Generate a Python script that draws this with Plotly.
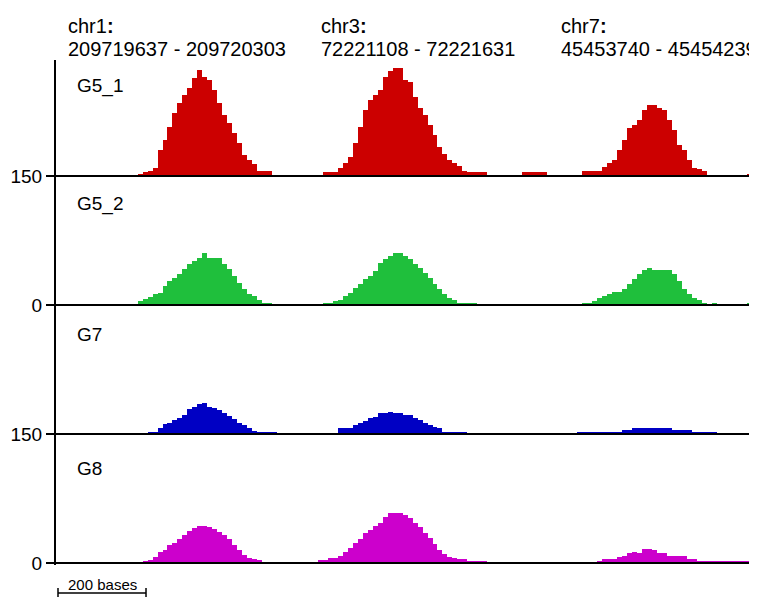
import plotly.graph_objects as go

TRACKS = ["G5_1", "G5_2", "G7", "G8"]
COLORS = ["#cc0000", "#1fbf3c", "#0000c4", "#cc00cc"]
REGION_NAMES = ["chr1", "chr3", "chr7"]
REGION_RANGES = ["209719637 - 209720303", "72221108 - 72221631", "45453740 - 45454239"]
TICK_TEXT = ["0", "150", "0", "150"]  # baselines from bottom to top

# coverage per bin (view units), one list per region, per track
G5_1_chr1 = [0, 2, 4, 5, 8, 26, 36, 49, 63, 73, 81, 88, 98, 106, 99, 96, 86, 73, 61, 53, 43, 33, 21, 16, 12, 5, 5, 5, 1, 1, 1, 0]
G5_2_chr1 = [1, 4, 6, 8, 11, 12, 19, 24, 27, 31, 36, 41, 44, 47, 52, 47, 47, 47, 41, 36, 29, 22, 16, 11, 9, 5, 2, 2, 0, 0, 0, 0]
G7_chr1 = [0, 0, 0, 2, 2, 6, 10, 11, 14, 16, 19, 25, 27, 30, 31, 27, 26, 24, 21, 18, 15, 11, 9, 6, 3, 2, 2, 2, 2, 0, 0, 0]
G8_chr1 = [0, 0, 2, 3, 6, 11, 13, 18, 20, 24, 28, 32, 35, 37, 37, 36, 34, 31, 28, 24, 18, 13, 8, 5, 4, 3, 0, 0, 0, 0, 0, 0]

G5_1_chr3 = [0, 0, 4, 4, 4, 8, 13, 19, 33, 49, 66, 76, 81, 86, 99, 105, 108, 108, 96, 94,
             79, 68, 61, 51, 41, 29, 22, 16, 13, 10, 5, 4, 4, 4, 4, 1, 1, 1, 1, 0,
             0, 0, 4, 4, 4, 4, 4, 0]
G5_2_chr3 = [0, 0, 2, 2, 4, 5, 9, 12, 17, 21, 26, 29, 34, 42, 46, 49, 52, 52, 49, 46,
             41, 37, 32, 27, 21, 16, 11, 7, 5, 2, 2, 2, 2, 0, 0, 0, 0, 0, 0, 0,
             0, 0, 0, 0, 0, 0, 0, 0]
G7_chr3 = [0, 0, 0, 0, 0, 6, 6, 6, 9, 11, 13, 16, 17, 21, 21, 22, 21, 21, 19, 19,
           16, 14, 11, 9, 7, 6, 2, 2, 2, 2, 2, 0, 0, 0, 0, 0, 0, 0, 0, 0,
           0, 0, 0, 0, 0, 0, 0, 0]
G8_chr3 = [0, 3, 3, 5, 5, 7, 11, 15, 20, 24, 30, 33, 37, 40, 46, 50, 50, 50, 48, 45,
           40, 36, 30, 25, 19, 13, 9, 6, 5, 4, 4, 2, 2, 2, 2, 0, 0, 0, 0, 0,
           0, 0, 0, 0, 0, 0, 0, 0]

G5_1_chr7 = [0, 1, 1, 5, 5, 5, 5, 9, 13, 16, 26, 36, 48, 51, 56, 66, 71, 71, 68, 66,
             56, 46, 31, 26, 16, 8, 7, 5, 1, 1, 1, 1, 1, 1, 1, 1, 2, 2]
G5_2_chr7 = [0, 0, 0, 2, 2, 4, 7, 9, 11, 13, 13, 16, 21, 26, 31, 35, 37, 35, 35, 35,
             35, 31, 24, 16, 11, 7, 5, 2, 0, 2, 0, 0, 0, 0, 0, 0, 2, 2]
G7_chr7 = [0, 0, 2, 2, 2, 2, 2, 2, 2, 2, 2, 4, 4, 6, 6, 6, 6, 6, 6, 6,
           6, 4, 4, 4, 4, 2, 2, 2, 2, 2, 0, 0, 0, 0, 0, 0, 0, 0]
G8_chr7 = [0, 0, 0, 0, 0, 0, 2, 4, 4, 4, 6, 7, 10, 11, 10, 14, 14, 13, 10, 10,
           7, 7, 7, 7, 4, 4, 2, 2, 2, 2, 2, 2, 2, 2, 2, 2, 2, 2]

COVERAGE = {
    "G5_1": [G5_1_chr1, G5_1_chr3, G5_1_chr7],
    "G5_2": [G5_2_chr1, G5_2_chr3, G5_2_chr7],
    "G7": [G7_chr1, G7_chr3, G7_chr7],
    "G8": [G8_chr1, G8_chr3, G8_chr7],
}

# layout in "bases" along the concatenated view
BIN = 11.494                           # bases per bin
REGION_START = [181.6, 595.4, 1181.6]  # view position of first bin of each region
X_MAX = 1611.5
TRACK_SPAN = 129
SCALE_BAR = 200

fig = go.Figure()
n = len(TRACKS)
for i, (name, color) in enumerate(zip(TRACKS, COLORS)):
    offset = (n - 1 - i) * TRACK_SPAN
    xs, ys = [], []
    for start, vals in zip(REGION_START, COVERAGE[name]):
        for k, v in enumerate(vals):
            xs.append(start + k * BIN)
            ys.append(v)
    fig.add_trace(go.Bar(x=xs, y=ys, base=offset, width=BIN, marker_color=color,
                         marker_line_width=0, name=name, showlegend=False))
    fig.add_shape(type="line", xref="paper", x0=0, x1=1, yref="y", y0=offset, y1=offset,
                  line=dict(color="black", width=2), layer="above")

font = "Liberation Sans, Arial, sans-serif"
label_y = [477, 359, 229, 95]
for name, y in zip(TRACKS, label_y):
    fig.add_annotation(text=name, xref="paper", x=0.0271, xanchor="left",
                       yref="y", y=y, yanchor="middle", showarrow=False,
                       font=dict(size=19, color="black", family=font))

region_x = [0.0142, 0.3752, 0.7175]
for nm, rg, x in zip(REGION_NAMES, REGION_RANGES, region_x):
    fig.add_annotation(text=nm + "<b>:</b>", xref="paper", x=x, xanchor="left",
                       yref="paper", y=1.0673, yanchor="middle", showarrow=False,
                       font=dict(size=20, color="black", family=font))
    fig.add_annotation(text=rg, xref="paper", x=x, xanchor="left",
                       yref="paper", y=1.0208, yanchor="middle", showarrow=False,
                       font=dict(size=20, color="black", family=font))

# scale bar (200 bases)
sb0, sb1 = 0.00285, 0.1284
fig.add_shape(type="line", xref="paper", x0=sb0, x1=sb1, yref="paper", y0=-0.0554, y1=-0.0554,
              line=dict(color="black", width=1.5))
for xx in (sb0, sb1):
    fig.add_shape(type="line", xref="paper", x0=xx, x1=xx, yref="paper", y0=-0.0455, y1=-0.0634,
                  line=dict(color="black", width=1.5))
fig.add_annotation(text=f"{SCALE_BAR} bases", xref="paper", x=(sb0 + sb1) / 2, xanchor="center",
                   yref="paper", y=-0.0396, yanchor="middle", showarrow=False,
                   font=dict(size=15, color="black", family=font))

fig.update_layout(
    width=749, height=590,
    margin=dict(l=48, r=0, t=52, b=33),
    plot_bgcolor="white", paper_bgcolor="white",
    barmode="overlay", bargap=0,
    xaxis=dict(range=[0, X_MAX], visible=False, fixedrange=True),
    yaxis=dict(range=[-2, 503], tickvals=[i * TRACK_SPAN for i in range(n)], ticktext=TICK_TEXT,
               showline=True, linecolor="black", linewidth=2, ticks="outside", ticklen=8,
               tickwidth=2, tickcolor="black", showgrid=False, zeroline=False,
               tickfont=dict(size=19, color="black", family=font), fixedrange=True),
    font=dict(family=font),
)

fig.write_html("out.html")
